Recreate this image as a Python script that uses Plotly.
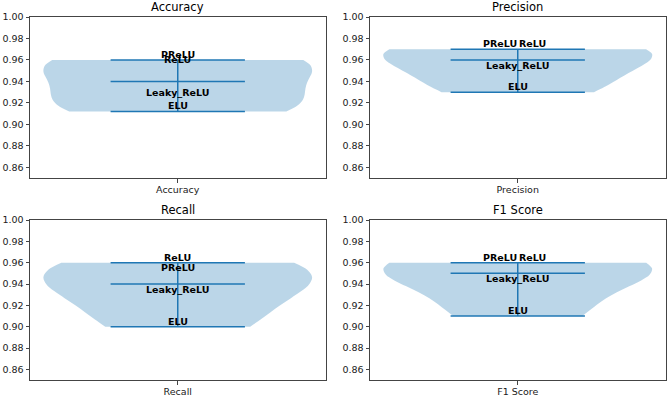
import numpy as np
import plotly.graph_objects as go

metrics = ["Accuracy", "Precision", "Recall", "F1 Score"]
activations = ["ReLU", "Leaky_ReLU", "ELU", "PReLU"]
accuracy = [0.955, 0.925, 0.912, 0.960]
precision = [0.970, 0.950, 0.930, 0.970]
recall = [0.960, 0.930, 0.900, 0.950]
f1_score = [0.960, 0.940, 0.910, 0.960]
series = [accuracy, precision, recall, f1_score]

yticks = [0.86, 0.88, 0.90, 0.92, 0.94, 0.96, 0.98, 1.00]

W, H = 669, 396
xdoms = [[30 / W, 325.5 / W], [370 / W, 665.5 / W]]
ydoms = [[1 - 178 / H, 1 - 17 / H], [1 - 380 / H, 1 - 220 / H]]

C0 = "#1f77b4"
FONT = "DejaVu Sans"
fig = go.Figure()
annotations = []

for i, (name, vals) in enumerate(zip(metrics, series)):
    r, c = divmod(i, 2)
    ax = "" if i == 0 else str(i + 1)
    xa, ya = "x" + ax, "y" + ax
    v = np.array(vals)
    bw = v.std(ddof=1) * len(v) ** (-1 / 5)
    fig.add_trace(go.Violin(
        x=[1] * len(v), y=v, xaxis=xa, yaxis=ya, width=0.5,
        bandwidth=bw, spanmode="hard", scalemode="width",
        fillcolor="rgba(31,119,180,0.3)", line=dict(width=0, color="rgba(0,0,0,0)"),
        points=False, box=dict(visible=False), meanline=dict(visible=False),
        hoverinfo="skip", showlegend=False, orientation="v", side="both",
    ))
    vmin, vmax, vmed = v.min(), v.max(), np.median(v)
    for yv in (vmin, vmax, vmed):
        fig.add_trace(go.Scatter(x=[0.875, 1.125], y=[yv, yv], mode="lines",
                                 line=dict(color=C0, width=1.5), xaxis=xa, yaxis=ya,
                                 showlegend=False, hoverinfo="skip"))
    fig.add_trace(go.Scatter(x=[1, 1], y=[vmin, vmax], mode="lines",
                             line=dict(color=C0, width=1.5), xaxis=xa, yaxis=ya,
                             showlegend=False, hoverinfo="skip"))
    # labels
    order = ["PReLU", "ReLU", "Leaky_ReLU", "ELU"]
    seen = {}
    for act in order:
        val = vals[activations.index(act)]
        key = round(val, 4)
        dup = [a for a in order if a != act and round(vals[activations.index(a)], 4) == key]
        if dup:
            idx = seen.get(key, 0)
            seen[key] = idx + 1
            xanchor = "right" if idx == 0 else "left"
            xshift = 0.5 if idx == 0 else 0
        else:
            xanchor, xshift = "center", 0
        annotations.append(dict(x=1, y=val, xref=xa, yref=ya, text="<b>%s</b>" % act,
                                showarrow=False, xanchor=xanchor, yanchor="bottom",
                                xshift=xshift, yshift=-1, borderpad=0,
                                font=dict(family=FONT, size=9.5, color="black")))
    # title
    annotations.append(dict(x=(xdoms[c][0] + xdoms[c][1]) / 2, y=ydoms[r][1],
                            xref="paper", yref="paper", text=name, showarrow=False,
                            xanchor="center", yanchor="bottom", yshift=1,
                            font=dict(family=FONT, size=11.5, color="black")))
    axis_common = dict(showline=True, mirror=True, linecolor="#444", linewidth=1,
                       ticks="outside", ticklen=3.5, tickcolor="#444", showgrid=False,
                       zeroline=False, automargin=False,
                       tickfont=dict(family=FONT, size=9.5, color="#1a1a1a"))
    fig.update_layout(**{
        "xaxis" + ax: dict(domain=xdoms[c], range=[0.725, 1.275], tickvals=[1],
                           ticktext=[name], anchor=ya, ticklabelstandoff=-1,
                           **axis_common),
        "yaxis" + ax: dict(domain=ydoms[r], range=[0.85, 1.0], tickvals=yticks,
                           tickformat=".2f", anchor=xa, **axis_common),
    })

fig.update_layout(width=W, height=H, margin=dict(l=0, r=0, t=0, b=0, autoexpand=False),
                  plot_bgcolor="white", paper_bgcolor="white",
                  annotations=annotations, showlegend=False,
                  font=dict(family=FONT))
fig.write_html("out.html", config={"displayModeBar": False},
               post_script="document.body.style.margin='0';document.body.style.overflow='hidden';")
